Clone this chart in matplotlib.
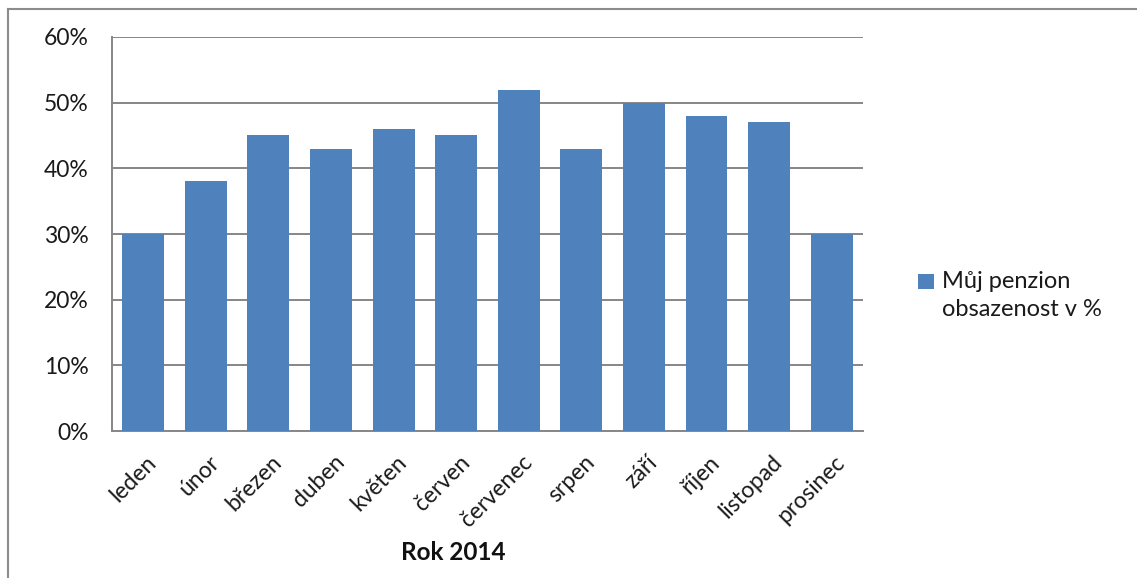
import matplotlib.pyplot as plt
from matplotlib.container import BarContainer
from matplotlib.lines import Line2D
from matplotlib.patches import Rectangle
from matplotlib.legend_handler import HandlerPatch, update_from_first_child
from matplotlib.ticker import PercentFormatter
from matplotlib.transforms import ScaledTranslation

plt.rcParams['font.family'] = ['Lato', 'DejaVu Sans']

# obsazenost penzionu po měsících, rok 2014
months = ['leden', 'únor', 'březen', 'duben', 'květen', 'červen',
          'červenec', 'srpen', 'září', 'říjen', 'listopad', 'prosinec']
occupancy = [30, 38, 45, 43, 46, 45, 52, 43, 50, 48, 47, 30]
yticks = [0, 10, 20, 30, 40, 50, 60]

bar_color = '#4F81BD'
grid_color = '#868686'
text_color = '#1a1a1a'


def first_line_square(legend, orig_handle, xdescent, ydescent,
                      width, height, fontsize):
    # čtvereček zarovnaný s prvním řádkem popisku
    return Rectangle((-xdescent, -ydescent + 0.62 * fontsize), width, height)


fig = plt.figure(figsize=(11.37, 5.78), dpi=100)
ax = fig.add_axes([0.0985, 0.2543, 0.6605, 0.6817])

x = range(len(months))
ax.bar(x, occupancy, width=0.67, color=bar_color, zorder=3,
       label='Můj penzion\nobsazenost v %')

ax.set_xlim(-0.5, len(months) - 0.5)
ax.set_ylim(0, 60)
ax.set_yticks(yticks)
ax.yaxis.set_major_formatter(PercentFormatter(decimals=0))
ax.grid(axis='y', color=grid_color, linewidth=1.4, zorder=0)

for side in ('top', 'right'):
    ax.spines[side].set_visible(False)
for side in ('left', 'bottom'):
    ax.spines[side].set_color(grid_color)
    ax.spines[side].set_linewidth(1.4)

ax.tick_params(axis='both', length=0, labelsize=16.5, labelcolor=text_color)
ax.tick_params(axis='y', pad=17)
ax.set_xticks(list(x))
ax.set_xticklabels(months, rotation=45, ha='right', va='center',
                   rotation_mode='anchor')
ax.tick_params(axis='x', pad=20)
# popisky měsíců posunout trochu doprava
shift = ScaledTranslation(10 / 100, 0, fig.dpi_scale_trans)
for lbl in ax.get_xticklabels():
    lbl.set_transform(lbl.get_transform() + shift)

fig.text(453 / 1137, 1 - 552 / 578, 'Rok 2014', ha='center', va='center',
         fontsize=17.5, fontweight='bold', color='#111111')

square_handler = HandlerPatch(patch_func=first_line_square,
                              update_func=update_from_first_child)
leg = fig.legend(loc='upper left', bbox_to_anchor=(909 / 1137, 1 - 262 / 578),
                 frameon=False, fontsize=17, handlelength=0.65,
                 handleheight=0.65, handletextpad=0.35, borderaxespad=0,
                 handler_map={BarContainer: square_handler})
for t in leg.get_texts():
    t.set_color(text_color)
    t.set_linespacing(1.4)

# rámeček kolem celého grafu
fig.add_artist(Line2D([8 / 1137, 1], [1 - 9 / 578, 1 - 9 / 578],
                      transform=fig.transFigure, color='#8c8c8c', linewidth=1.5))
fig.add_artist(Line2D([8 / 1137, 8 / 1137], [0, 1 - 9 / 578],
                      transform=fig.transFigure, color='#8c8c8c', linewidth=1.5))

fig.savefig('out.png', dpi=100)
